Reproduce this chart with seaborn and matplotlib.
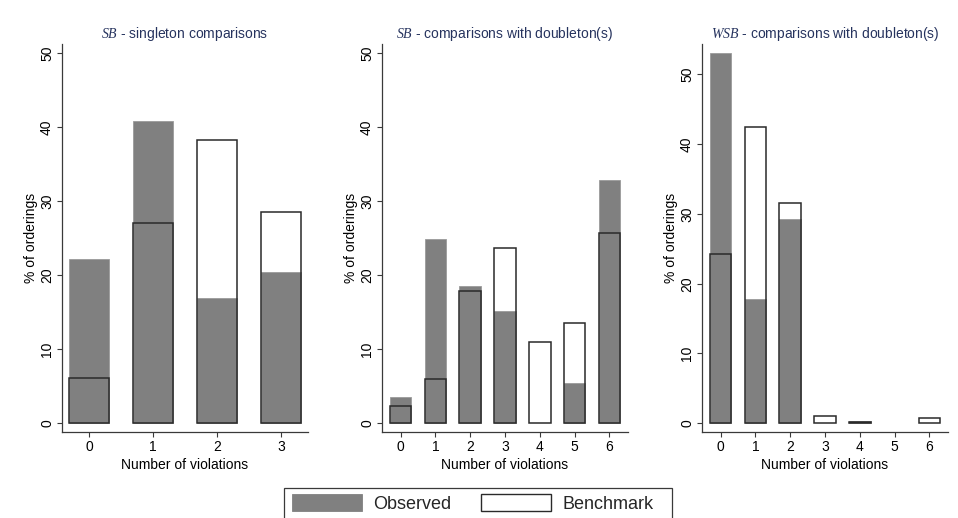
import numpy as np
import matplotlib
matplotlib.use("Agg")
import matplotlib.pyplot as plt
from matplotlib.patches import Patch, Rectangle
import seaborn as sns

# Share of orderings by number of violations
violations_single = [0, 1, 2, 3]
obs_sb_single = [22.2, 40.8, 16.9, 20.4]
bench_sb_single = [6.1, 27.1, 38.3, 28.5]

violations_double = [0, 1, 2, 3, 4, 5, 6]
obs_sb_double = [3.6, 24.9, 18.6, 15.1, 0.0, 5.4, 32.8]
bench_sb_double = [2.3, 6.0, 17.9, 23.7, 11.0, 13.6, 25.7]

obs_wsb_double = [53.1, 17.8, 29.3, 0.0, 0.3, 0.0, 0.0]
bench_wsb_double = [24.2, 42.5, 31.5, 1.1, 0.2, 0.0, 0.7]

panel_titles = [
    r"$\mathit{SB}$ - singleton comparisons",
    r"$\mathit{SB}$ - comparisons with doubleton(s)",
    r"$\mathit{WSB}$ - comparisons with doubleton(s)",
]
y_ticks = [0, 10, 20, 30, 40, 50]

sns.set_theme(style="ticks")
plt.rcParams["font.family"] = ["Liberation Sans", "DejaVu Sans"]
plt.rcParams["mathtext.fontset"] = "custom"
plt.rcParams["mathtext.it"] = "Liberation Serif:italic"
plt.rcParams["mathtext.rm"] = "Liberation Sans"

OBS_GREY = "#808080"
OUTLINE = "#2a2a2a"
AXIS = "#3a3a3a"
TITLE_COL = "#26335e"

W, H = 958, 518
fig = plt.figure(figsize=(W / 100, H / 100), dpi=100)

panels = [
    (violations_single, obs_sb_single, bench_sb_single, 61.7, (-0.43, 3.43), (-1.17, 51.15)),
    (violations_double, obs_sb_double, bench_sb_double, 381.7, (-0.54, 6.54), (-1.17, 51.15)),
    (violations_double, obs_wsb_double, bench_wsb_double, 701.7, (-0.54, 6.54), (-1.25, 54.3)),
]

for (cats, obs, bench, left_px, xlim, ylim), title in zip(panels, panel_titles):
    ax = fig.add_axes([left_px / W, (H - 432) / H, 246.6 / W, (432 - 44.3) / H])
    sns.barplot(x=cats, y=obs, color=OBS_GREY, saturation=1, width=0.62,
                errorbar=None, ax=ax, edgecolor="#9a9a9a", linewidth=0.6)
    sns.barplot(x=cats, y=bench, color=OUTLINE, saturation=1, width=0.62,
                errorbar=None, ax=ax, fill=False, linewidth=1.1)
    # zero-height bars leave no trace
    for p in ax.patches:
        if p.get_height() == 0:
            p.set_linewidth(0)
    ax.set_xlim(*xlim)
    ax.set_ylim(*ylim)
    ax.set_yticks(y_ticks)
    ax.set_yticklabels([str(t) for t in y_ticks], rotation=90, va="center")
    ax.set_xticks(range(len(cats)))
    ax.set_xticklabels([str(c) for c in cats])
    ax.set_xlabel("Number of violations", fontsize=10, labelpad=3, color="black")
    ax.set_ylabel("% of orderings", fontsize=10, labelpad=1.5, color="black")
    ax.set_title(title, fontsize=10, color=TITLE_COL, pad=4.5)
    for s in ("top", "right"):
        ax.spines[s].set_visible(False)
    for s in ("left", "bottom"):
        ax.spines[s].set_color(AXIS)
        ax.spines[s].set_linewidth(0.9)
    ax.tick_params(axis="both", length=3.5, width=0.8, color=AXIS,
                   labelsize=10, labelcolor="black", pad=2)
    ax.set_facecolor("white")

# Legend entries, with a plain box around them running off the lower edge
handles = [
    Patch(facecolor=OBS_GREY, edgecolor=OBS_GREY, linewidth=0.6),
    Patch(facecolor="white", edgecolor=OUTLINE, linewidth=1.0),
]
leg = fig.legend(handles, ["Observed", "Benchmark"], loc="upper left",
                 bbox_to_anchor=(291.7 / W, 1 - 494 / H), ncol=2, frameon=False,
                 fontsize=13, handlelength=3.9, handleheight=1.05,
                 handletextpad=0.6, columnspacing=1.65, borderpad=0,
                 borderaxespad=0)
fig.patches.append(Rectangle((284 / W, -10 / H), (672 - 284) / W, (10 + 518 - 488) / H,
                             transform=fig.transFigure, fill=False,
                             edgecolor=AXIS, linewidth=0.9))

fig.savefig("out.png", dpi=100, facecolor="white")
